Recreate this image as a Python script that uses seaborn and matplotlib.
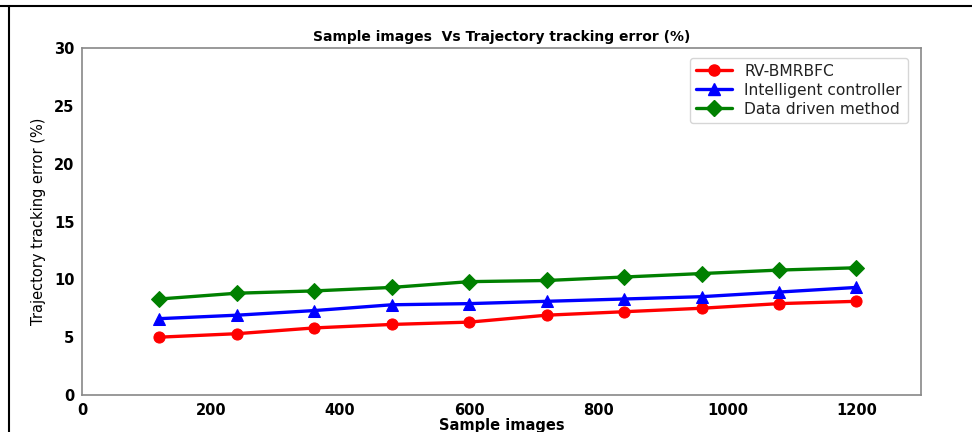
import matplotlib
matplotlib.use("Agg")
import matplotlib.pyplot as plt
import seaborn as sns
import pandas as pd
from matplotlib.lines import Line2D

samples = [120, 240, 360, 480, 600, 720, 840, 960, 1080, 1200]
rv_bmrbfc = [5.0, 5.3, 5.8, 6.1, 6.3, 6.9, 7.2, 7.5, 7.9, 8.1]
intelligent = [6.6, 6.9, 7.3, 7.8, 7.9, 8.1, 8.3, 8.5, 8.9, 9.3]
data_driven = [8.3, 8.8, 9.0, 9.3, 9.8, 9.9, 10.2, 10.5, 10.8, 11.0]
series_names = ["RV-BMRBFC", "Intelligent controller", "Data driven method"]
colors = ["red", "blue", "green"]
markers = ["o", "^", "D"]

sns.set_style("white")
plt.rcParams["font.family"] = ["DejaVu Sans"]
plt.rcParams["text.color"] = "black"
plt.rcParams["axes.labelcolor"] = "black"
plt.rcParams["xtick.color"] = "black"
plt.rcParams["ytick.color"] = "black"

df = pd.DataFrame({
    "x": samples * 3,
    "y": rv_bmrbfc + intelligent + data_driven,
    "method": sum([[n] * len(samples) for n in series_names], []),
})

fig = plt.figure(figsize=(9.72, 4.32), dpi=100)
ax = fig.add_axes([82 / 972, 1 - 395 / 432, (921 - 82) / 972, (395 - 48) / 432])

for name, c, m in zip(series_names, colors, markers):
    sub = df[df["method"] == name]
    sns.lineplot(data=sub, x="x", y="y", ax=ax, color=c, marker=m,
                 markersize=8, markeredgecolor=c, linewidth=2.4, label=name)

ax.set_xlim(0, 1300)
ax.set_ylim(0, 30)
ax.set_xticks([0, 200, 400, 600, 800, 1000, 1200])
ax.set_yticks([0, 5, 10, 15, 20, 25, 30])
for lab in ax.get_xticklabels() + ax.get_yticklabels():
    lab.set_fontweight("bold")
    lab.set_fontsize(10.5)
ax.tick_params(axis="both", length=3.5, width=0.8, color="#888888", pad=2)
for s in ax.spines.values():
    s.set_color("#888888")
    s.set_linewidth(1.2)
ax.set_xlabel("Sample images", fontweight="bold", fontsize=10.5, labelpad=0)
ax.set_ylabel("Trajectory tracking error (%)", fontsize=10.5, labelpad=6)
ax.set_title("Sample images  Vs Trajectory tracking error (%)", fontweight="bold", fontsize=10, pad=5)

handles = [Line2D([0], [0], color=c, marker=m, markersize=8, linewidth=2.4) for c, m in zip(colors, markers)]
leg = ax.legend(handles, series_names, loc="upper right", fontsize=11.2, frameon=True,
                handlelength=2.3, borderpad=0.4, labelspacing=0.25, bbox_to_anchor=(0.994, 0.995))
for t in leg.get_texts():
    t.set_color("#222222")

# outer frame lines
fig.add_artist(Line2D([0, 1], [1 - 6 / 432, 1 - 6 / 432], color="black", linewidth=1.5, transform=fig.transFigure))
fig.add_artist(Line2D([9 / 972, 9 / 972], [0, 1 - 6 / 432], color="black", linewidth=1.5, transform=fig.transFigure))

fig.savefig("out.png", dpi=100)
